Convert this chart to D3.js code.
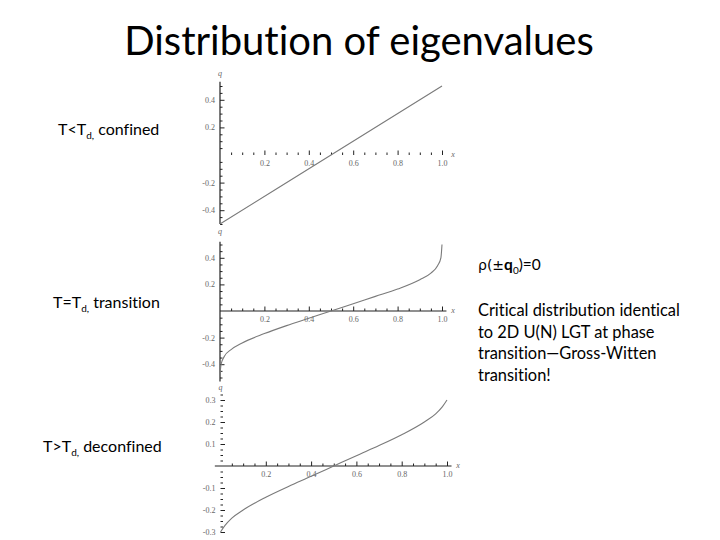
<!DOCTYPE html>
<html>
<head>
<meta charset="utf-8">
<script src="https://cdn.jsdelivr.net/npm/d3@7"></script>
<style>
  html, body { margin: 0; padding: 0; background: #fff; }
  svg { display: block; }
  text { font-variant-ligatures: none; font-feature-settings: "liga" 0; }
</style>
</head>
<body>
<svg id="chart" width="720" height="540"></svg>
<script>
// ---------------- data ----------------
const xTicks = [0.2, 0.4, 0.6, 0.8, 1.0];
const xTickLabels = ["0.2", "0.4", "0.6", "0.8", "1.0"];

// T < Td : confined (uniform distribution, straight line)
const confinedX = [0.0, 0.25, 0.5, 0.75, 1.0];
const confinedQ = [-0.5, -0.25, 0.0, 0.25, 0.5];
const confinedYTicks = [0.4, 0.2, -0.2, -0.4];
const confinedYLabels = ["0.4", "0.2", "-0.2", "-0.4"];

// T = Td : transition (Gross-Witten critical)
const transitionX = [0.0, 0.005, 0.02, 0.05, 0.1, 0.2, 0.3, 0.4, 0.5, 0.6, 0.7, 0.8, 0.9, 0.95, 0.98, 0.995, 1.0];
const transitionQ = [-0.48, -0.40, -0.34, -0.29, -0.24, -0.17, -0.11, -0.055, 0.0, 0.055, 0.11, 0.165, 0.235, 0.285, 0.34, 0.40, 0.50];
const transitionYTicks = [0.4, 0.2, -0.2, -0.4];
const transitionYLabels = ["0.4", "0.2", "-0.2", "-0.4"];

// T > Td : deconfined
const deconfinedX = [0.0, 0.02, 0.05, 0.1, 0.2, 0.3, 0.4, 0.5, 0.6, 0.7, 0.8, 0.9, 0.95, 0.98, 1.0];
const deconfinedQ = [-0.30, -0.27, -0.237, -0.20, -0.142, -0.093, -0.047, 0.0, 0.047, 0.093, 0.142, 0.20, 0.237, 0.27, 0.30];
const deconfinedYTicks = [0.3, 0.2, 0.1, -0.1, -0.2, -0.3];
const deconfinedYLabels = ["0.3", "0.2", "0.1", "-0.1", "-0.2", "-0.3"];

// ---------------- drawing ----------------
const svg = d3.select("#chart");
svg.append("rect").attr("width", 720).attr("height", 540).attr("fill", "#fff");

const slideFont = "Lato, 'Open Sans', sans-serif";
const tickFont = "'Liberation Serif', 'DejaVu Serif', serif";
const axisColor = "#222";
const labelColor = "#666";
const curveColor = "#7a7a7a";

// Title
svg.append("text")
  .attr("x", 359).attr("y", 55)
  .attr("text-anchor", "middle")
  .attr("font-family", slideFont)
  .attr("font-size", 40)
  .attr("fill", "#000")
  .text("Distribution of eigenvalues");

function subLabel(x, y, pre, post) {
  const t = svg.append("text")
    .attr("x", x).attr("y", y)
    .attr("font-family", slideFont)
    .attr("font-size", 16)
    .attr("fill", "#000");
  t.append("tspan").text(pre);
  t.append("tspan").attr("font-size", 10).attr("dy", 4).text("d,");
  t.append("tspan").attr("dy", -4).text(post);
}
subLabel(58, 135, "T<T", " confined");
subLabel(53, 308, "T=T", " transition");
subLabel(43, 452, "T>T", " deconfined");

// right-hand notes
const rho = svg.append("text")
  .attr("x", 478).attr("y", 270)
  .attr("font-family", slideFont)
  .attr("font-size", 15.5)
  .attr("fill", "#000");
rho.append("tspan").attr("font-family", "'DejaVu Sans', sans-serif").attr("font-size", 14).text("ρ(±");
rho.append("tspan").attr("font-weight", "bold").text("q");
rho.append("tspan").attr("font-size", 10).attr("dy", 4).text("0");
rho.append("tspan").attr("dy", -4).text(")=0");

const noteLines = ["Critical distribution identical", "to 2D U(N) LGT at phase",
                   "transition\u2014Gross-Witten", "transition!"];
svg.append("g").selectAll("text").data(noteLines).join("text")
  .attr("x", 478)
  .attr("y", (d, i) => 316 + i * 21.5)
  .attr("font-family", slideFont)
  .attr("font-size", 16.4)
  .attr("fill", "#000")
  .text(d => d);

// panels
const panels = [
  { xs: confinedX, qs: confinedQ, yTicks: confinedYTicks, yLabels: confinedYLabels,
    xRange: [220, 442], yDomain: [-0.5, 0.5], yRange: [224, 86],
    yMinorStep: 0.05, yAxisExt: [-0.5, 0.53], xAxisExt: [0, 1.03],
    xSolid: false, ySolid: true, qLabelY: 76, xLabelX: 453 },
  { xs: transitionX, qs: transitionQ, yTicks: transitionYTicks, yLabels: transitionYLabels,
    xRange: [220, 442], yDomain: [-0.5, 0.5], yRange: [377.5, 244.5],
    yMinorStep: 0.05, yAxisExt: [-0.53, 0.52], xAxisExt: [0, 1.02],
    xSolid: true, ySolid: true, qLabelY: 234, xLabelX: 453 },
  { xs: deconfinedX, qs: deconfinedQ, yTicks: deconfinedYTicks, yLabels: deconfinedYLabels,
    xRange: [220.5, 447], yDomain: [-0.3, 0.3], yRange: [532, 400],
    yMinorStep: 0.025, yAxisExt: [-0.31, 0.33], xAxisExt: [-0.025, 1.02],
    xSolid: true, ySolid: false, qLabelY: 390, xLabelX: 458 }
];

panels.forEach(p => {
  const x = d3.scaleLinear().domain([0, 1]).range(p.xRange);
  const y = d3.scaleLinear().domain(p.yDomain).range(p.yRange);
  const g = svg.append("g");
  const x0 = x(0), y0 = y(0);

  // minor ticks
  const xMinor = d3.range(1, 21).map(i => i * 0.05).filter(v => !xTicks.some(t => Math.abs(t - v) < 1e-6));
  g.append("g").attr("transform", `translate(0,${y0})`)
    .call(d3.axisBottom(x).tickValues(xMinor).tickSize(-2.5).tickFormat(""))
    .call(s => s.select(".domain").remove());
  const nMinor = Math.round((p.yAxisExt[1] - p.yAxisExt[0]) / p.yMinorStep) + 2;
  const yMinor = d3.range(-nMinor, nMinor + 1).map(i => +(i * p.yMinorStep).toFixed(4))
    .filter(v => v !== 0 && v >= p.yAxisExt[0] - 1e-9 && v <= p.yAxisExt[1] + 1e-9)
    .filter(v => !p.yTicks.some(t => Math.abs(t - v) < 1e-6));
  g.append("g").attr("transform", `translate(${x0},0)`)
    .call(d3.axisLeft(y).tickValues(yMinor).tickSize(-2.5).tickFormat(""))
    .call(s => s.select(".domain").remove());

  // major ticks with labels
  g.append("g").attr("class", "xaxis").attr("transform", `translate(0,${y0})`)
    .call(d3.axisBottom(x).tickValues(xTicks).tickSize(-4.5).tickPadding(5)
      .tickFormat((d, i) => xTickLabels[i]))
    .call(s => s.select(".domain").remove());
  g.append("g").attr("class", "yaxis").attr("transform", `translate(${x0},0)`)
    .call(d3.axisLeft(y).tickValues(p.yTicks).tickSize(-4.5).tickPadding(5)
      .tickFormat((d, i) => p.yLabels[i]))
    .call(s => s.select(".domain").remove());

  g.selectAll(".tick line").attr("stroke", axisColor).attr("stroke-width", 1);
  g.selectAll(".tick text")
    .attr("font-family", tickFont).attr("font-size", 8).attr("fill", labelColor);

  // axis lines
  if (p.xSolid) {
    g.append("line")
      .attr("x1", x(p.xAxisExt[0])).attr("x2", x(p.xAxisExt[1]))
      .attr("y1", y0).attr("y2", y0)
      .attr("stroke", axisColor).attr("stroke-width", 1.2);
  }
  if (p.ySolid) {
    g.append("line")
      .attr("x1", x0).attr("x2", x0)
      .attr("y1", y(p.yAxisExt[0])).attr("y2", y(p.yAxisExt[1]))
      .attr("stroke", axisColor).attr("stroke-width", 1.2);
  }

  // axis names
  g.append("text").attr("x", x0).attr("y", p.qLabelY)
    .attr("text-anchor", "middle").attr("font-family", tickFont)
    .attr("font-style", "italic").attr("font-size", 8).attr("fill", labelColor).text("q");
  g.append("text").attr("x", p.xLabelX).attr("y", y0 + 2)
    .attr("text-anchor", "middle").attr("font-family", tickFont)
    .attr("font-style", "italic").attr("font-size", 8).attr("fill", labelColor).text("x");

  // curve
  const pts = p.xs.map((v, i) => [v, p.qs[i]]);
  g.append("path").datum(pts)
    .attr("fill", "none").attr("stroke", curveColor).attr("stroke-width", 1.1)
    .attr("d", d3.line().x(d => x(d[0])).y(d => y(d[1])).curve(d3.curveMonotoneX));
});
</script>
</body>
</html>
